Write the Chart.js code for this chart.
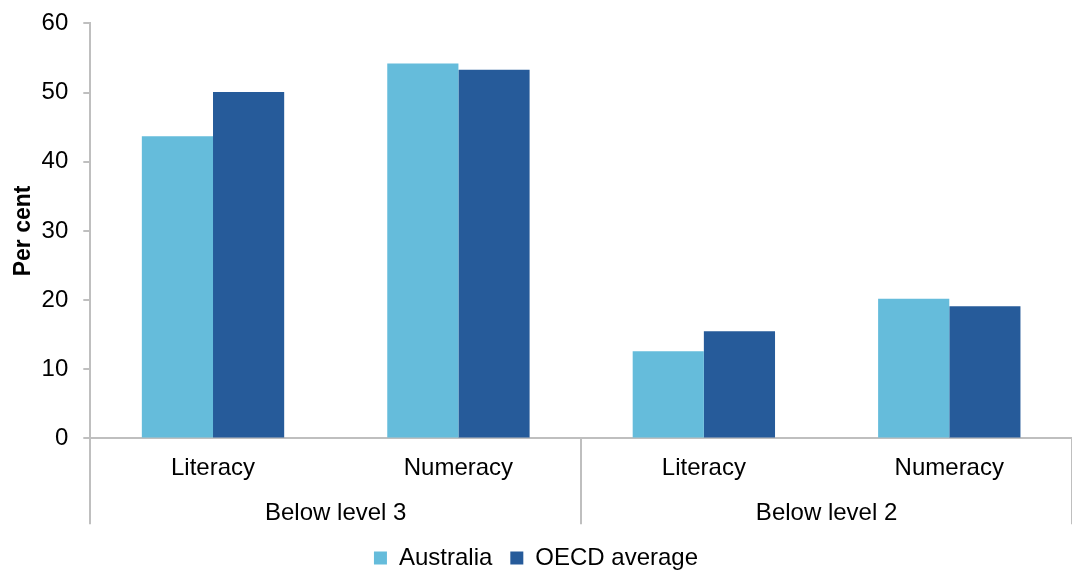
<!DOCTYPE html>
<html>
<head>
<meta charset="utf-8">
<script src="https://cdn.jsdelivr.net/npm/chart.js@4"></script>
<style>
  body { margin: 0; background: #fff; overflow: hidden; }
  #wrap { width: 1072px; height: 586px; margin-top: -6px; }
</style>
</head>
<body>
<div id="wrap"><canvas id="skillsChart"></canvas></div>
<script>
const categories = ['Literacy', 'Numeracy', 'Literacy', 'Numeracy'];
const groups = ['Below level 3', 'Below level 2'];
const australia = [43.7, 54.2, 12.6, 20.2];
const oecdAverage = [50.1, 53.3, 15.5, 19.1];
const yTicks = [0, 10, 20, 30, 40, 50, 60];

const font = 'Liberation Sans, Arial, sans-serif';
const axisGrey = '#bfbfbf';

// vertical separators between the two groups, below the axis
const groupLines = {
    id: 'groupLines',
    afterDraw(chart) {
        const x = chart.scales.x;
        const g = chart.scales.groups;
        const ctx = chart.ctx;
        const xs = [x.left, x.getPixelForValue(1.5), x.right];
        const yEnd = g.top + g.options.ticks.padding + 25;
        ctx.save();
        ctx.strokeStyle = axisGrey;
        ctx.lineWidth = 2;
        xs.forEach(px => {
            ctx.beginPath();
            ctx.moveTo(Math.round(px), chart.chartArea.bottom);
            ctx.lineTo(Math.round(px), yEnd);
            ctx.stroke();
        });
        ctx.restore();
    }
};

const ctx = document.getElementById('skillsChart').getContext('2d');
new Chart(ctx, {
    type: 'bar',
    data: {
        labels: categories,
        datasets: [{
            label: 'Australia',
            data: australia,
            backgroundColor: '#65bcdb',
            categoryPercentage: 0.58,
            barPercentage: 1.0
        }, {
            label: 'OECD average',
            data: oecdAverage,
            backgroundColor: '#265b9a',
            categoryPercentage: 0.58,
            barPercentage: 1.0
        }]
    },
    options: {
        responsive: true,
        maintainAspectRatio: false,
        animation: false,
        layout: { padding: { top: 2, right: 0, left: 0, bottom: 0 } },
        scales: {
            x: {
                type: 'category',
                position: 'bottom',
                grid: { display: false, drawTicks: false, tickLength: 0 },
                border: { color: axisGrey, width: 2 },
                ticks: { color: '#000', font: { family: font, size: 24 }, padding: 16, maxRotation: 0 }
            },
            groups: {
                type: 'category',
                position: 'bottom',
                labels: groups,
                grid: { display: false, drawTicks: false, tickLength: 0 },
                border: { display: false },
                ticks: { color: '#000', font: { family: font, size: 24 }, padding: 0, maxRotation: 0 }
            },
            y: {
                min: 0,
                max: 60,
                afterBuildTicks: axis => { axis.ticks = yTicks.map(v => ({ value: v })); },
                grid: { drawOnChartArea: false, color: axisGrey, lineWidth: 2, tickLength: 7 },
                border: { color: axisGrey, width: 2 },
                ticks: { color: '#000', font: { family: font, size: 24 }, padding: 15 },
                title: {
                    display: true,
                    text: 'Per cent',
                    color: '#000',
                    font: { family: font, size: 23, weight: 'bold' },
                    padding: { top: 10, bottom: -11 }
                }
            }
        },
        plugins: {
            legend: {
                position: 'bottom',
                labels: {
                    color: '#000',
                    font: { family: font, size: 24 },
                    boxWidth: 13,
                    boxHeight: 13,
                    padding: 18
                }
            },
            tooltip: { enabled: false }
        }
    },
    plugins: [groupLines]
});
</script>
</body>
</html>
